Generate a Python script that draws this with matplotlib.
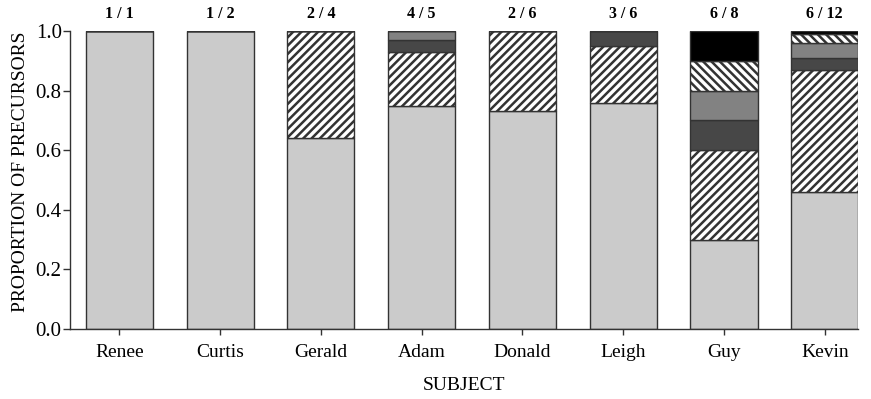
import matplotlib
matplotlib.use("Agg")
import matplotlib.pyplot as plt
import numpy as np

subjects = ["Renee", "Curtis", "Gerald", "Adam", "Donald", "Leigh", "Guy", "Kevin"]
ratios = ["1 / 1", "1 / 2", "2 / 4", "4 / 5", "2 / 6", "3 / 6", "6 / 8", "6 / 12"]

# proportion of precursors in each response class, stacked bottom to top
seg_light = [1.00, 1.00, 0.64, 0.75, 0.73, 0.76, 0.30, 0.46]
seg_fwd_hatch = [0.00, 0.00, 0.36, 0.18, 0.27, 0.19, 0.30, 0.41]
seg_dark = [0.00, 0.00, 0.00, 0.04, 0.00, 0.05, 0.10, 0.04]
seg_mid = [0.00, 0.00, 0.00, 0.03, 0.00, 0.00, 0.10, 0.05]
seg_back_hatch = [0.00, 0.00, 0.00, 0.00, 0.00, 0.00, 0.10, 0.03]
seg_black = [0.00, 0.00, 0.00, 0.00, 0.00, 0.00, 0.10, 0.01]

plt.rcParams["font.family"] = ["Liberation Serif", "DejaVu Serif"]
plt.rcParams["hatch.linewidth"] = 1.8
plt.rcParams["hatch.color"] = "black"

fig = plt.figure(figsize=(8.71, 3.99), dpi=100)
ax = fig.add_axes([0.0804, 0.1754, 0.9854 - 0.0804, 0.9223 - 0.1754])

x = np.arange(len(subjects))
width = 0.665
layers = [
    (seg_light, dict(facecolor="#cbcbcb", hatch=None)),
    (seg_fwd_hatch, dict(facecolor="white", hatch="////")),
    (seg_dark, dict(facecolor="#474747", hatch=None)),
    (seg_mid, dict(facecolor="#828282", hatch=None)),
    (seg_back_hatch, dict(facecolor="white", hatch="\\\\\\\\")),
    (seg_black, dict(facecolor="black", hatch=None)),
]
bottom = np.zeros(len(subjects))
for vals, style in layers:
    vals = np.array(vals)
    ax.bar(x, vals, width=width, bottom=bottom, edgecolor="#333333",
           linewidth=1.0, **style)
    bottom += vals

for xi, r in zip(x, ratios):
    ax.text(xi, 1.058, r, ha="center", va="center", fontsize=11.5,
            fontweight="bold", transform=ax.get_xaxis_transform())

ax.set_xlim(-0.489, 7 + width / 2)
ax.set_ylim(0, 1.0)
ax.set_yticks([0.0, 0.2, 0.4, 0.6, 0.8, 1.0])
ax.set_yticklabels(["0.0", "0.2", "0.4", "0.6", "0.8", "1.0"])
ax.set_xticks(x)
ax.set_xticklabels(subjects)
ax.tick_params(axis="y", labelsize=15, length=5, width=1, color="#333333", pad=1)
ax.tick_params(axis="x", labelsize=14, length=4, width=1, color="#333333", pad=7)
for s in ["top", "right"]:
    ax.spines[s].set_visible(False)
for s in ["left", "bottom"]:
    ax.spines[s].set_color("#333333")
    ax.spines[s].set_linewidth(1.0)

ax.set_ylabel("PROPORTION OF PRECURSORS", fontsize=14)
ax.yaxis.set_label_coords(-0.052, 0.527)
ax.set_xlabel("SUBJECT", fontsize=14, labelpad=11)

fig.savefig("out.png", dpi=100)
